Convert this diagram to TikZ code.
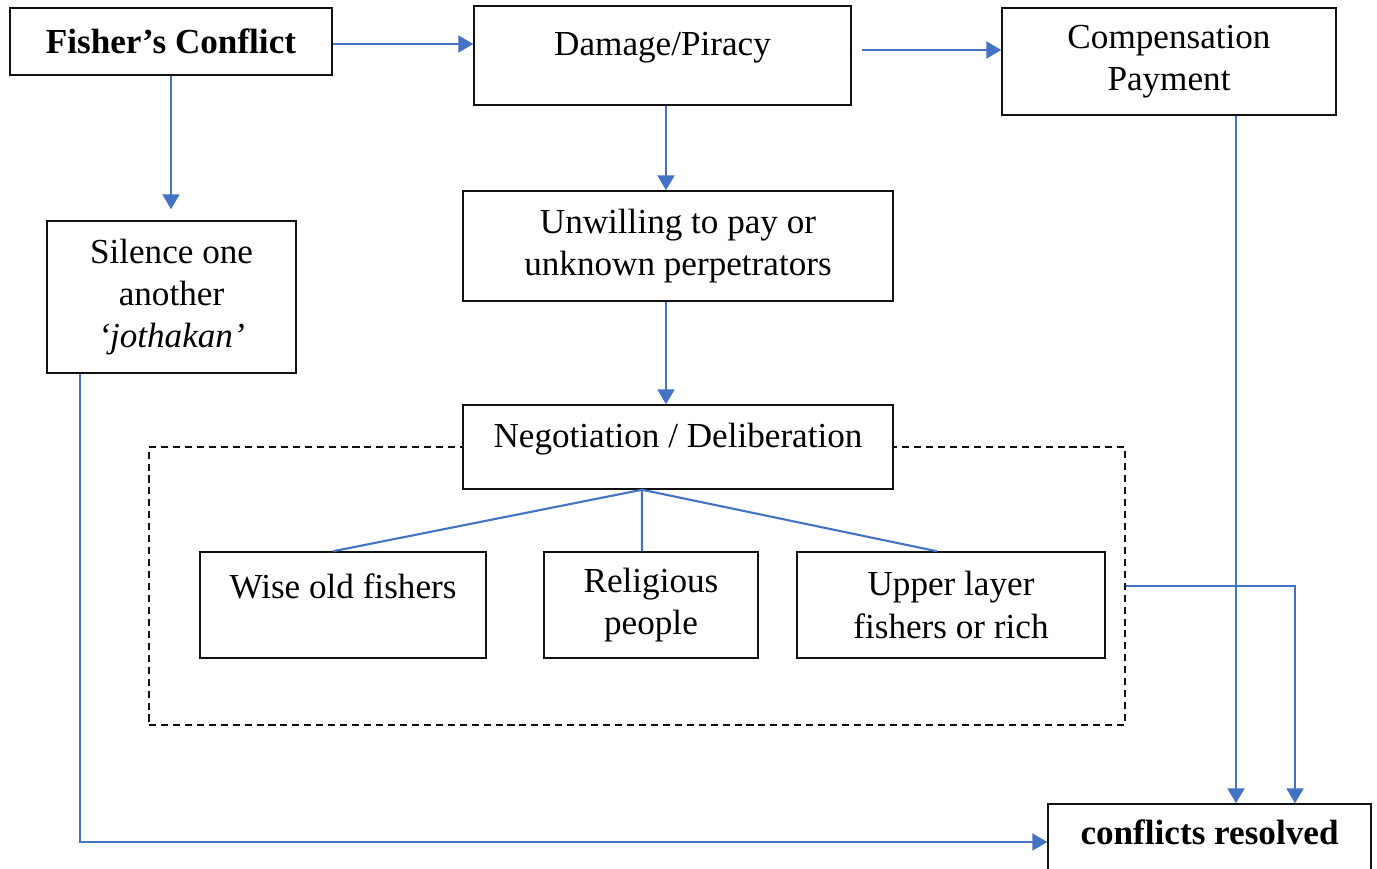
\documentclass[tikz,border=0pt]{standalone}
\usepackage{fontspec}
\setmainfont{Liberation Serif}
\usetikzlibrary{arrows.meta,positioning,calc}
\definecolor{flowblue}{HTML}{4472C4}
\definecolor{ink}{HTML}{111111}

\begin{document}
\begin{tikzpicture}[font=\fontsize{20}{24}\selectfont,>={Triangle[length=0.3cm,width=0.34cm]},
box/.style={draw=ink,line width=0.85pt,fill=white,align=center,inner sep=0pt},
flow/.style={->,line width=1.3pt,flowblue},
link/.style={line width=1.2pt,flowblue},
group/.style={draw=ink,line width=1pt,dash pattern=on 4pt off 2.8pt,inner sep=0pt}]
  \useasboundingbox (0,0) rectangle (27.54,-17.38);
  \clip (0,0) rectangle (27.54,-17.38);
  \node[group,minimum width=19.52cm,minimum height=5.56cm] (panel) at (12.74,-11.72) {};
  \node[box,minimum width=6.44cm,minimum height=1.34cm] (fisher) at (3.42,-0.83) {\bfseries Fisher's Conflict};
  \node[box,minimum width=7.54cm,minimum height=1.98cm,text height=0.75em,text depth=0.75em] (damage) at (13.25,-1.11) {Damage/Piracy};
  \node[box,minimum width=6.68cm,minimum height=2.14cm] (comp) at (23.38,-1.23) {Compensation\\Payment};
  \node[box,minimum width=4.98cm,minimum height=3.04cm] (silence) at (3.43,-5.94) {Silence one\\another\\\textit{`jothakan'}};
  \node[box,minimum width=8.6cm,minimum height=2.2cm] (unwilling) at (13.56,-4.92) {Unwilling to pay or\\unknown perpetrators};
  \node[box,minimum width=8.6cm,minimum height=1.68cm,text height=0.75em,text depth=0.75em] (negot) at (13.56,-8.94) {Negotiation / Deliberation};
  \node[box,minimum width=5.72cm,minimum height=2.12cm,text height=0.75em,text depth=1.45em] (wise) at (6.86,-12.1) {Wise old fishers};
  \node[box,minimum width=4.28cm,minimum height=2.12cm] (relig) at (13.02,-12.1) {Religious\\people};
  \node[box,minimum width=6.16cm,minimum height=2.12cm] (upper) at (19.02,-12.1) {Upper layer\\fishers or rich};
  \node[box,minimum width=6.46cm,minimum height=1.52cm,text height=0.75em,text depth=0.43em] (resolved) at (24.19,-16.84) {\bfseries conflicts resolved};
  % top row
  \draw[flow] ([yshift=-0.05cm]fisher.east) -- ([yshift=-0.05cm]fisher.east -| damage.west);
  \draw[flow,shorten <=0.2cm] ([yshift=0.11cm]damage.east) -- ([yshift=0.11cm]damage.east -| comp.west);
  \draw[flow,shorten >=0.22cm] (fisher.south) -- (fisher.south |- silence.north);
  % middle column
  \draw[flow] ([xshift=0.07cm]damage.south) -- ([xshift=0.07cm]damage.south |- unwilling.north);
  \draw[flow] ([xshift=-0.24cm]unwilling.south) -- ([xshift=-0.24cm]negot.north);
  \coordinate (hub) at ([xshift=-0.72cm]negot.south);
  \draw[link] (hub) -- ([xshift=-0.2cm]wise.north);
  \draw[link] (hub) -- ([xshift=-0.18cm]relig.north);
  \draw[link] (hub) -- ([xshift=-0.28cm]upper.north);
  % into the result
  \draw[flow] ([xshift=1.34cm]comp.south) -- ([xshift=1.34cm]comp.south |- resolved.north);
  \draw[flow] (panel.east) -| ([xshift=1.71cm]resolved.north);
  \draw[flow] ([xshift=-1.83cm]silence.south) |- (resolved.west);
\end{tikzpicture}
\end{document}
